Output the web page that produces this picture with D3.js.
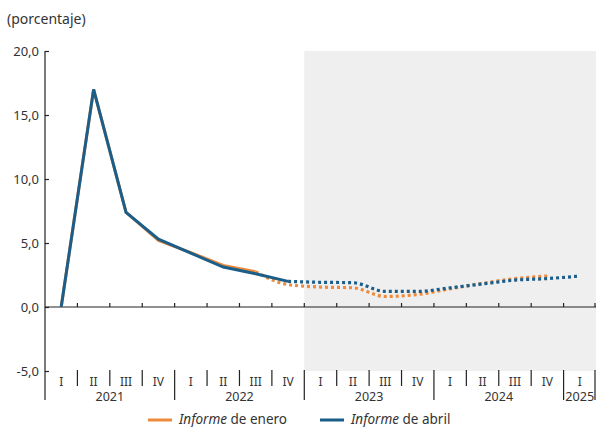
<!DOCTYPE html>
<html>
<head>
<meta charset="utf-8">
<script src="https://cdn.jsdelivr.net/npm/d3@7"></script>
<style>
  html, body { margin: 0; padding: 0; background: #fff; }
  svg { display: block; font-family: "Noto Sans", "DejaVu Sans", sans-serif; }
</style>
</head>
<body>
<svg id="chart" width="596" height="427"></svg>
<script>
// ---- data ----
const quarters = ["2021-I","2021-II","2021-III","2021-IV","2022-I","2022-II","2022-III","2022-IV",
  "2023-I","2023-II","2023-III","2023-IV","2024-I","2024-II","2024-III","2024-IV","2025-I"];
const quarterLabels = ["I","II","III","IV","I","II","III","IV","I","II","III","IV","I","II","III","IV","I"];
const years = ["2021","2022","2023","2024","2025"];
const yTicks = [-5, 0, 5, 10, 15, 20];

// Informe de enero (observed, then projection)
const eneroObs  = [0.0, 17.0, 7.4, 5.2, 4.25, 3.25, 2.75, null, null, null, null, null, null, null, null, null, null];
const eneroProj = [null, null, null, null, null, null, 2.75, 1.75, 1.56, 1.5, 0.82, 0.98, 1.42, 1.85, 2.22, 2.42, null];
// Informe de abril (observed, then projection)
const abrilObs  = [0.0, 17.0, 7.4, 5.3, 4.2, 3.12, 2.6, 2.0, null, null, null, null, null, null, null, null, null];
const abrilProj = [null, null, null, null, null, null, null, 2.0, 1.93, 1.9, 1.22, 1.22, 1.5, 1.8, 2.1, 2.22, 2.42];

const shadeStart = "2023-I";

// ---- layout ----
const svg = d3.select("#chart");
const mLeft = 45, mRight = 596, mTop = 51, mBottom = 371;
const orange = "#ee8a3a", blue = "#1b5e8a";
const textColor = "#333";

const x = d3.scaleBand().domain(quarters).range([mLeft, mRight]).padding(0);
const y = d3.scaleLinear().domain([-5, 20]).range([mBottom, mTop]);
const cx = q => x(q) + x.bandwidth() / 2;

// shaded projection area
svg.append("rect")
  .attr("x", x(shadeStart)).attr("y", y(20))
  .attr("width", mRight - x(shadeStart)).attr("height", y(-5) - y(20))
  .attr("fill", "#efefef");

// title
svg.append("text").attr("x", 7).attr("y", 24)
  .attr("font-size", 14).attr("fill", textColor).text("(porcentaje)");

// y axis
const yAxis = d3.axisLeft(y).tickValues(yTicks).tickSize(-4).tickPadding(6)
  .tickFormat(d => d3.format(".1f")(d).replace(".", ",").replace("\u2212", "-"));
const gy = svg.append("g").attr("transform", `translate(${mLeft},0)`).call(yAxis);
gy.select(".domain").remove();
gy.selectAll(".tick line").attr("stroke", "#222").attr("stroke-width", 1.2);
gy.selectAll(".tick text").attr("font-size", 13).attr("fill", textColor)
  .attr("font-family", '"Noto Sans", sans-serif');
svg.append("line").attr("x1", mLeft).attr("x2", mLeft).attr("y1", y(20)).attr("y2", 400)
  .attr("stroke", "#222").attr("stroke-width", 1.2);

// zero line with upward ticks at quarter boundaries
svg.append("line").attr("x1", mLeft).attr("x2", mRight).attr("y1", y(0)).attr("y2", y(0))
  .attr("stroke", "#222").attr("stroke-width", 1.2);
svg.append("g").selectAll("line").data(quarters)
  .join("line")
  .attr("x1", q => Math.min(x(q) + x.bandwidth(), mRight - 1))
  .attr("x2", q => Math.min(x(q) + x.bandwidth(), mRight - 1))
  .attr("y1", y(0)).attr("y2", y(0) - 4)
  .attr("stroke", "#222").attr("stroke-width", 1.2);

// category axis: quarter and year separators
quarters.forEach((q, i) => {
  const xb = Math.min(x(q) + x.bandwidth(), mRight - 1);
  const isYearEnd = (i + 1) % 4 === 0 || i === quarters.length - 1;
  svg.append("line").attr("x1", xb).attr("x2", xb)
    .attr("y1", 370).attr("y2", isYearEnd ? 400 : 386)
    .attr("stroke", "#222").attr("stroke-width", 1.2);
  svg.append("text").attr("x", cx(q)).attr("y", 385.5)
    .attr("text-anchor", "middle").attr("font-size", 12).attr("fill", textColor)
    .text(quarterLabels[i]);
});
years.forEach(yr => {
  const qs = quarters.filter(q => q.startsWith(yr));
  const x0 = x(qs[0]), x1 = x(qs[qs.length - 1]) + x.bandwidth();
  const t = svg.append("text").attr("x", (x0 + x1) / 2).attr("y", 401)
    .attr("text-anchor", "middle").attr("font-size", 12.5).attr("fill", textColor)
    .text(yr);
  if (yr === "2025") t.attr("textLength", 29).attr("lengthAdjust", "spacingAndGlyphs");
});

// lines
const solid = d3.line().defined(d => d.v !== null).x(d => cx(d.q)).y(d => y(d.v));
const dotted = d3.line().x(d => cx(d.q)).y(d => y(d.v)).curve(d3.curveMonotoneX);
const pts = arr => arr.map((v, i) => ({ q: quarters[i], v }));

function drawSeries(obs, proj, color) {
  svg.append("path").datum(pts(obs)).attr("d", solid)
    .attr("fill", "none").attr("stroke", color).attr("stroke-width", 3)
    .attr("stroke-linejoin", "miter");
  svg.append("path").datum(pts(proj).filter(d => d.v !== null)).attr("d", dotted)
    .attr("fill", "none").attr("stroke", color).attr("stroke-width", 3.2)
    .attr("stroke-dasharray", "3,3");
}
drawSeries(eneroObs, eneroProj, orange);
drawSeries(abrilObs, abrilProj, blue);

// legend
const legend = [
  { x: 148, color: orange, rest: " de enero" },
  { x: 320, color: blue, rest: " de abril" }
];
legend.forEach(l => {
  svg.append("line").attr("x1", l.x).attr("x2", l.x + 24).attr("y1", 420).attr("y2", 420)
    .attr("stroke", l.color).attr("stroke-width", 3);
  const t = svg.append("text").attr("x", l.x + 31).attr("y", 424)
    .attr("font-size", 13.5).attr("fill", textColor);
  t.append("tspan").attr("font-style", "italic").text("Informe");
  t.append("tspan").text(l.rest);
});
</script>
</body>
</html>
